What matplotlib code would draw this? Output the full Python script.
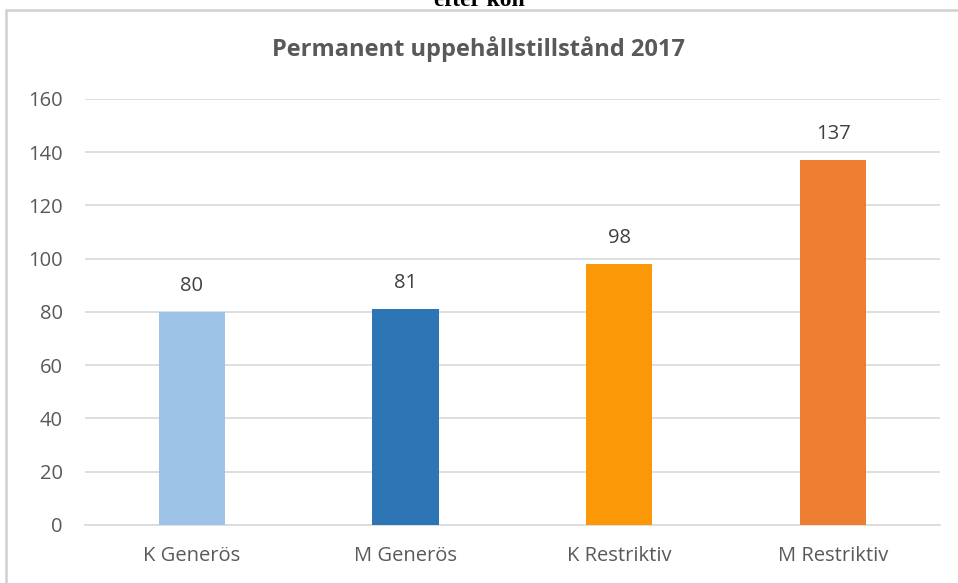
import matplotlib.pyplot as plt
from matplotlib.patches import Rectangle

categories = ["K Generös", "M Generös", "K Restriktiv", "M Restriktiv"]
values = [80, 81, 98, 137]
bar_colors = ["#9DC3E6", "#2E75B6", "#FB9807", "#ED7D31"]
yticks = [0, 20, 40, 60, 80, 100, 120, 140, 160]

plt.rcParams["font.family"] = ["Open Sans", "DejaVu Sans"]

fig = plt.figure(figsize=(9.58, 5.83), dpi=100)
ax = fig.add_axes([0.0887, 0.0995, 0.8925, 0.7307])

# chart frame (extends past the right/bottom edge, as in the cropped screenshot)
fig.patches.append(Rectangle((0.0063, -0.05), 1.1, 1.032, transform=fig.transFigure,
                             fill=False, edgecolor="#D0D0D0", linewidth=1.8))

x = range(len(categories))
ax.bar(x, values, width=0.31, color=bar_colors, zorder=3)
for xi, v in zip(x, values):
    ax.text(xi, v + 6, str(v), ha="center", va="bottom", fontsize=14.5, color="#404040")

ax.set_xlim(-0.5, 3.5)
ax.set_ylim(0, 160)
ax.set_yticks(yticks)
ax.set_xticks(list(x))
ax.set_xticklabels(categories)
ax.tick_params(axis="both", length=0, labelsize=14.5, labelcolor="#595959")
ax.tick_params(axis="y", pad=16)
ax.tick_params(axis="x", pad=15)
ax.grid(axis="y", color="#D9D9D9", linewidth=1.2, zorder=0)
for side in ["top", "right", "left"]:
    ax.spines[side].set_visible(False)
ax.spines["bottom"].set_color("#D9D9D9")
ax.spines["bottom"].set_linewidth(1.2)

fig.text(0.5, 0.916, "Permanent uppehållstillstånd 2017", ha="center", va="center",
         fontsize=17, fontweight="bold", color="#595959")
# cut-off caption line above the chart
fig.text(0.5, 1.0, "efter kön", ha="center", va="center", fontsize=17,
         fontweight="bold", family="Liberation Serif", color="black")

fig.savefig("out.png", dpi=100)
